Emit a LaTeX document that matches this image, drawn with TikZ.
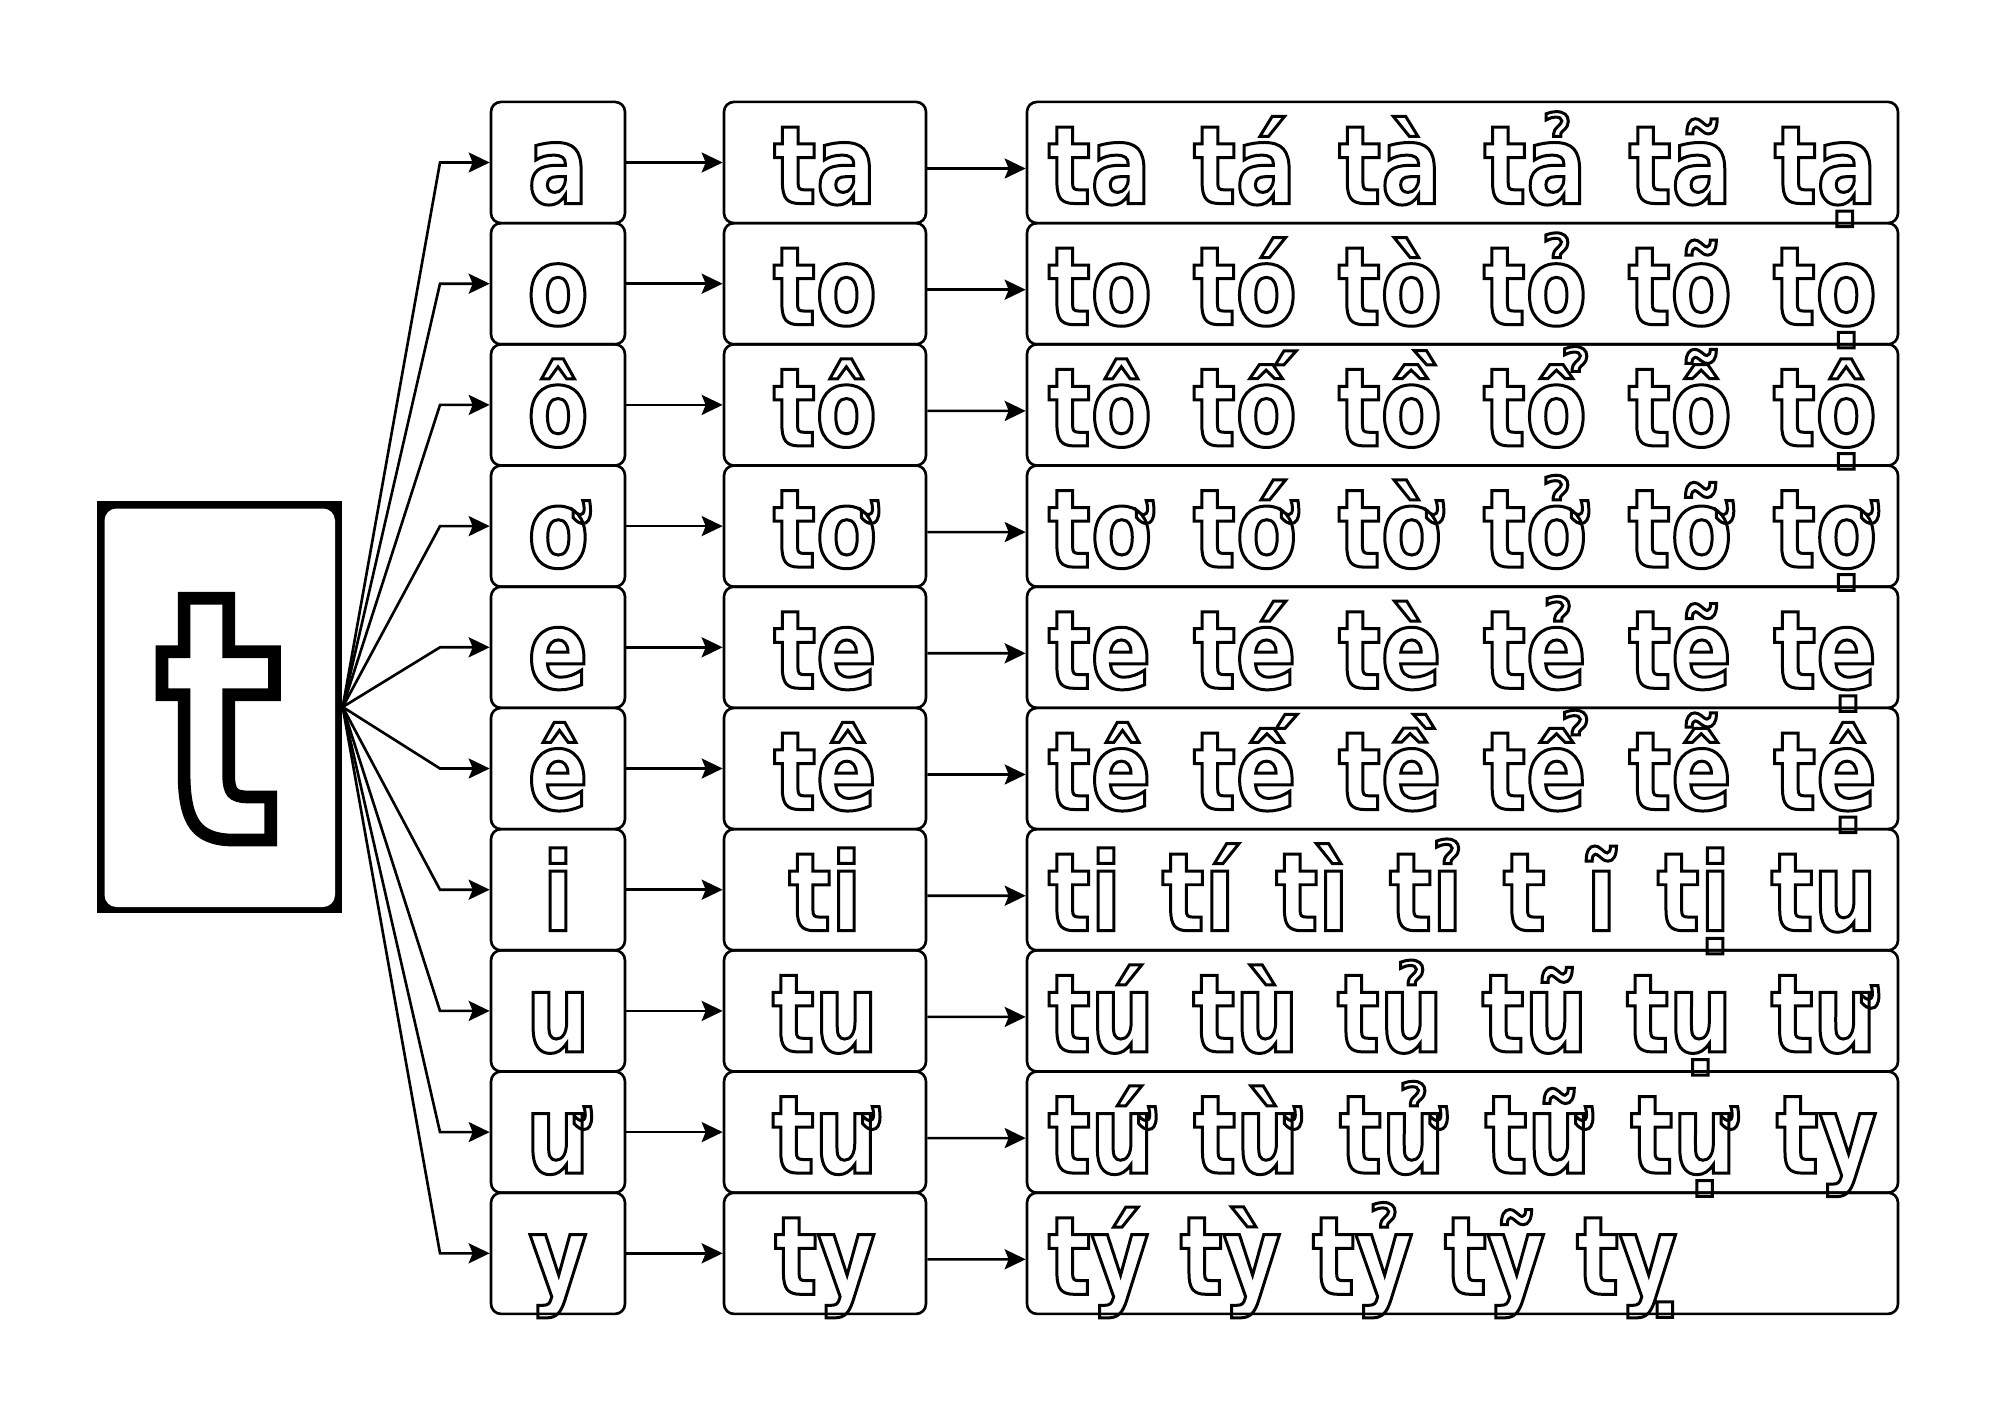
\documentclass[tikz,border=0pt]{standalone}
\usepackage{fontspec}
\setmainfont{DejaVu Sans}[UprightFont={* Bold}, FakeStretch=0.82]
\newfontfamily\bigfont{DejaVu Sans}[UprightFont={* Bold}, FakeStretch=0.74]
\usetikzlibrary{arrows.meta}

% hollow letters: stroke the glyph outlines only
\newcommand\outl[2][0.85]{\special{pdf:bcontent}\special{pdf:literal direct 1 Tr #1 w}#2\special{pdf:econtent}}
\newcommand\wline[1]{\hbox to 8.29cm{#1}}

\tikzset{
  box/.style={draw, line width=0.75pt, rounded corners=0.1cm, minimum height=1.212cm,
    inner sep=0pt, text height=0.82cm, text depth=0cm, font=\fontsize{31}{31}\selectfont},
  vowel/.style={box, minimum width=1.34cm},
  syl/.style={box, minimum width=2.02cm},
  tones/.style={box, minimum width=8.71cm},
  initbox/.style={minimum width=2.45cm, minimum height=4.12cm, fill=black, inner sep=0pt,
    text height=2.66cm, text depth=0cm, font=\bigfont\fontsize{98}{98}\selectfont,
    path picture={\fill[white, rounded corners=0.12cm]
      ([shift={(0.075,-0.075)}]path picture bounding box.north west) rectangle
      ([shift={(-0.07,0.06)}]path picture bounding box.south east);}},
  arr/.style={line width=0.75pt, -{Stealth[length=0.21cm, width=0.2cm, inset=0.04cm]}}
}

\begin{document}
\begin{tikzpicture}
\useasboundingbox (0,0) rectangle (20,-14.14);

\node[initbox] (init) at (2.195,-7.07) {\outl[3.6]{t}};
\coordinate (fan) at (4.40,0);

\foreach \v [count=\i from 0] in {a,o,ô,ơ,e,ê,i,u,ư,y} {
  \node[vowel] (v\i) at (5.58,{-1.625-1.212*\i}) {\outl{\v}};
  \node[syl] (s\i) at (8.25,{-1.625-1.212*\i}) {\outl{t\v}};
}

% tone rows
\node[tones] (w0) at (14.625,-1.625) {\outl{\wline{ta\hfill tá\hfill tà\hfill tả\hfill tã\hfill tạ}}};
\node[tones] (w1) at (14.625,-2.837) {\outl{\wline{to\hfill tó\hfill tò\hfill tỏ\hfill tõ\hfill tọ}}};
\node[tones] (w2) at (14.625,-4.049) {\outl{\wline{tô\hfill tố\hfill tồ\hfill tổ\hfill tỗ\hfill tộ}}};
\node[tones] (w3) at (14.625,-5.261) {\outl{\wline{tơ\hfill tớ\hfill tờ\hfill tở\hfill tỡ\hfill tợ}}};
\node[tones] (w4) at (14.625,-6.473) {\outl{\wline{te\hfill té\hfill tè\hfill tẻ\hfill tẽ\hfill tẹ}}};
\node[tones] (w5) at (14.625,-7.685) {\outl{\wline{tê\hfill tế\hfill tề\hfill tể\hfill tễ\hfill tệ}}};
\node[tones] (w6) at (14.625,-8.897) {\outl{\wline{ti\hfill tí\hfill tì\hfill tỉ\hfill t\hfill ĩ\hfill tị\hfill tu}}};
\node[tones] (w7) at (14.625,-10.109) {\outl{\wline{tú\hfill tù\hfill tủ\hfill tũ\hfill tụ\hfill tư}}};
\node[tones] (w8) at (14.625,-11.321) {\outl{\wline{tứ\hfill từ\hfill tử\hfill tữ\hfill tự\hfill ty}}};
\node[tones] (w9) at (14.625,-12.533) {\outl{\wline{tý tỳ tỷ tỹ tỵ\hfill}}};

\foreach \i in {0,...,9} {
  \draw[arr] (init.east) -- (fan |- v\i.west) -- (v\i.west);
  \draw[arr] (v\i.east) -- (s\i.west);
  \draw[arr] ([yshift=-0.06cm]s\i.east) -- ([yshift=-0.06cm]w\i.west);
}
\end{tikzpicture}
\end{document}
